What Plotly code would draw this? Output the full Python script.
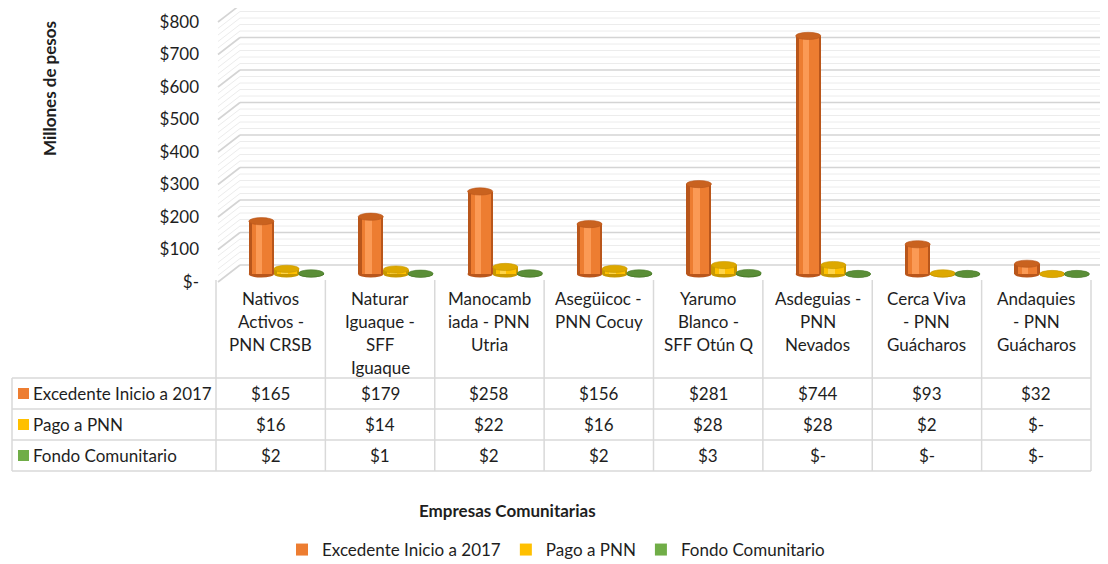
import plotly.graph_objects as go

# ---------------- data ----------------
categories = [
    "Nativos Activos - PNN CRSB",
    "Naturar Iguaque - SFF Iguaque",
    "Manocambiada - PNN Utria",
    "Asegüicoc - PNN Cocuy",
    "Yarumo Blanco - SFF Otún Q",
    "Asdeguias - PNN Nevados",
    "Cerca Viva - PNN Guácharos",
    "Andaquies - PNN Guácharos",
]
category_lines = [
    ["Nativos", "Activos -", "PNN CRSB"],
    ["Naturar", "Iguaque -", "SFF", "Iguaque"],
    ["Manocamb", "iada - PNN", "Utria"],
    ["Asegüicoc -", "PNN Cocuy"],
    ["Yarumo", "Blanco -", "SFF Otún Q"],
    ["Asdeguias -", "PNN", "Nevados"],
    ["Cerca Viva", "- PNN", "Guácharos"],
    ["Andaquies", "- PNN", "Guácharos"],
]
excedente = [165, 179, 258, 156, 281, 744, 93, 32]
pago_pnn = [16, 14, 22, 16, 28, 28, 2, 0]
fondo_comunitario = [2, 1, 2, 2, 3, 0, 0, 0]
series_names = ["Excedente Inicio a 2017", "Pago a PNN", "Fondo Comunitario"]
series_colors = ["#ED7D31", "#FFC000", "#70AD47"]
y_tick_values = [0, 100, 200, 300, 400, 500, 600, 700, 800]
y_tick_labels = ["$-", "$100", "$200", "$300", "$400", "$500", "$600", "$700", "$800"]
y_axis_title = "Millones de pesos"
x_axis_title = "Empresas Comunitarias"

# ---------------- geometry helpers ----------------
# the page body has an 8px margin, so the figure starts at (8, 8) of the window
OFF = 8
W, H = 1108 - OFF, 564 - OFF
FONT = "Lato"
TXT = "#1e1e1e"
FS = 17


def fx(px):
    return (px - OFF) / W


def fy(py):
    return 1 - (py - OFF) / H


PX_PER_UNIT = 0.32
BAR_BASE_PY = 274
Y_RANGE = [-40, 820]
y_dom = [fy(BAR_BASE_PY - PX_PER_UNIT * Y_RANGE[0]), fy(BAR_BASE_PY - PX_PER_UNIT * Y_RANGE[1])]

COL0, COLW = 216.0, 109.375
x_dom = [fx(COL0), fx(COL0 + 8 * COLW)]

TICK_PY0, TICK_PY800 = 282.0, 22.0
TICK_SCALE = (TICK_PY0 - TICK_PY800) / 800.0
BACK_SHIFT = 17.0
SIDE_FRONT_X, SIDE_BACK_X = 218.0, 240.0

BAR_W = 0.23
ELL_H = 3.6 / PX_PER_UNIT

styles = [
    dict(values=excedente, off=-0.085, edge="#B9561B", mid="#F28131", hi="#FB9A55", cap="#C9621F"),
    dict(values=pago_pnn, off=0.145, edge="#C89800", mid="#FFC000", hi="#FFD448", cap="#DDA800"),
    dict(values=fondo_comunitario, off=0.37, edge="#4C7C2C", mid="#6AA543", hi="#80BC58", cap="#5A8E37"),
]

xs = list(range(len(categories)))
fig = go.Figure()
shapes = []
annotations = []

# ---------------- back wall / side wall grid ----------------
for v in range(0, 801, 20):
    major = v % 100 == 0
    col = "#D4D4D4" if major else "#ECECEC"
    lw = 1.6 if major else 1.0
    front = TICK_PY0 - TICK_SCALE * v
    back = front - BACK_SHIFT
    shapes.append(dict(type="line", xref="paper", yref="paper", x0=fx(SIDE_BACK_X), x1=1.0,
                       y0=fy(back), y1=fy(back), line=dict(color=col, width=lw), layer="below"))
    shapes.append(dict(type="line", xref="paper", yref="paper", x0=fx(SIDE_FRONT_X), x1=fx(SIDE_BACK_X),
                       y0=fy(front), y1=fy(back), line=dict(color=col, width=lw), layer="below"))

# ---------------- bars (cylinders made of layered bars) ----------------
for si, st in enumerate(styles):
    vals = st["values"]
    c = st["off"]
    layers = [
        (BAR_W, c, st["edge"], False),
        (BAR_W * 0.78, c + 0.005, st["mid"], True),
        (BAR_W * 0.26, c - 0.02, st["hi"], False),
    ]
    for w, cc, colr, show in layers:
        fig.add_trace(go.Bar(
            x=xs, y=vals, width=w, offset=cc - w / 2,
            marker=dict(color=series_colors[si] if show else colr, line=dict(width=0)),
            name=series_names[si], showlegend=show, legendgroup=series_names[si],
            legendrank=si + 1, hoverinfo=None if show else "skip",
            xaxis="x", yaxis="y",
        ))
    for i, v in enumerate(vals):
        shapes.append(dict(type="circle", xref="x", yref="y",
                           x0=i + c - BAR_W / 2, x1=i + c + BAR_W / 2,
                           y0=-ELL_H, y1=ELL_H, fillcolor=st["edge"],
                           line=dict(width=0), layer="below"))
        shapes.append(dict(type="circle", xref="x", yref="y",
                           x0=i + c - BAR_W / 2, x1=i + c + BAR_W / 2,
                           y0=v - ELL_H, y1=v + ELL_H, fillcolor=st["cap"],
                           line=dict(width=0.6, color=st["edge"])))

# invisible helper trace that carries the tick-label axis
fig.add_trace(go.Scatter(x=[0], y=[0], xaxis="x", yaxis="y2", mode="markers",
                         marker=dict(opacity=0), showlegend=False, hoverinfo="skip"))

# ---------------- data table ----------------
TBL_LEFT = 12
TBL_RIGHT = COL0 + 8 * COLW
HDR_TOP, ROW_TOP, ROW_H = 280, 378, 31
grid_col = "#D9D9D9"
for k in range(9):
    xk = COL0 + k * COLW
    shapes.append(dict(type="line", xref="paper", yref="paper", x0=fx(xk), x1=fx(xk),
                       y0=fy(HDR_TOP), y1=fy(ROW_TOP + 3 * ROW_H), line=dict(color=grid_col, width=1.5)))
for r in range(4):
    yr = ROW_TOP + r * ROW_H
    shapes.append(dict(type="line", xref="paper", yref="paper", x0=fx(TBL_LEFT), x1=fx(TBL_RIGHT),
                       y0=fy(yr), y1=fy(yr), line=dict(color=grid_col, width=1.5)))
shapes.append(dict(type="line", xref="paper", yref="paper", x0=fx(TBL_LEFT), x1=fx(TBL_LEFT),
                   y0=fy(ROW_TOP), y1=fy(ROW_TOP + 3 * ROW_H), line=dict(color=grid_col, width=1.5)))

for i, lines in enumerate(category_lines):
    for j, ln in enumerate(lines):
        annotations.append(dict(x=i, xref="x", y=fy(298 + 23 * j), yref="paper", text=ln,
                                showarrow=False, xanchor="center", yanchor="middle",
                                font=dict(family=FONT, size=FS, color=TXT)))


def money(v):
    return "$-" if v == 0 else f"${v}"


for si, st in enumerate(styles):
    cy = ROW_TOP + ROW_H * si + ROW_H / 2
    shapes.append(dict(type="rect", xref="paper", yref="paper", x0=fx(18), x1=fx(29),
                       y0=fy(cy + 5.5), y1=fy(cy - 5.5), fillcolor=series_colors[si],
                       line=dict(width=0)))
    annotations.append(dict(x=fx(31), xref="paper", y=fy(cy), yref="paper", text=series_names[si],
                            showarrow=False, xanchor="left", yanchor="middle",
                            font=dict(family=FONT, size=FS, color=TXT)))
    for i, v in enumerate(st["values"]):
        annotations.append(dict(x=i, xref="x", y=fy(cy), yref="paper", text=money(v),
                                showarrow=False, xanchor="center", yanchor="middle",
                                font=dict(family=FONT, size=FS, color=TXT)))

annotations.append(dict(x=fx(507), xref="paper", y=fy(510), yref="paper", text=f"<b>{x_axis_title}</b>",
                        showarrow=False, xanchor="center", yanchor="middle",
                        font=dict(family=FONT, size=17, color=TXT)))
annotations.append(dict(x=fx(50), xref="paper", y=fy(89), yref="paper", text=f"<b>{y_axis_title}</b>",
                        showarrow=False, textangle=-90, xanchor="center", yanchor="middle",
                        font=dict(family=FONT, size=17, color=TXT)))

fig.update_layout(
    width=W, height=H,
    margin=dict(l=0, r=0, t=0, b=0, autoexpand=False),
    paper_bgcolor="white", plot_bgcolor="rgba(0,0,0,0)",
    barmode="overlay", bargap=0,
    xaxis=dict(domain=x_dom, range=[-0.5, 7.5], showgrid=False, zeroline=False,
               showticklabels=False, showline=False, fixedrange=True),
    yaxis=dict(domain=y_dom, range=Y_RANGE, showgrid=False, zeroline=False,
               showticklabels=False, showline=False, fixedrange=True),
    yaxis2=dict(domain=[fy(TICK_PY0), fy(TICK_PY800)], range=[0, 800], anchor="free",
                position=fx(203), side="left", showgrid=False, zeroline=False, showline=False,
                tickmode="array", tickvals=y_tick_values, ticktext=y_tick_labels, ticks="",
                ticklabelstandoff=4,
                tickfont=dict(family=FONT, size=FS, color=TXT), fixedrange=True),
    legend=dict(orientation="h", x=fx(556), xanchor="center", y=fy(550), yanchor="middle",
                font=dict(family=FONT, size=FS, color=TXT), bgcolor="rgba(0,0,0,0)",
                traceorder="normal", itemwidth=30, tracegroupgap=0),
    shapes=shapes,
    annotations=annotations,
    showlegend=True,
)

fig.write_html("out.html")
